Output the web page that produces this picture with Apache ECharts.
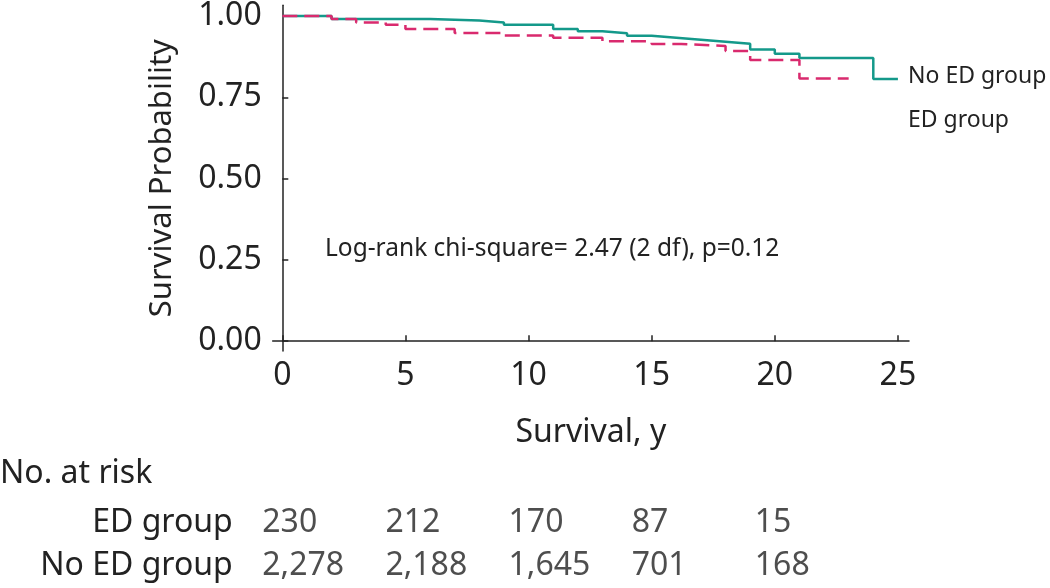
<!DOCTYPE html>
<html>
<head>
<meta charset="utf-8">
<script src="https://cdn.jsdelivr.net/npm/echarts@6/dist/echarts.min.js"></script>
<style>
html,body{margin:0;padding:0;background:#fff;}
#chart{width:1050px;height:588px;}
</style>
</head>
<body>
<div id="chart"></div>
<script>
// ---- data ----
const seriesNames = ['No ED group', 'ED group'];
// Kaplan-Meier step points: [time (years), survival probability]
const noEdTimes = [0, 2, 6, 8, 9, 11, 12, 13, 14, 15, 16, 17, 18, 19, 20, 21, 24, 25];
const noEdSurv  = [1.000, 0.991, 0.986, 0.980, 0.973, 0.960, 0.953, 0.947, 0.939, 0.933, 0.927, 0.921, 0.915, 0.897, 0.884, 0.871, 0.806, 0.806];
const edTimes   = [0, 2, 3, 4.2, 5, 7, 9, 11, 13, 15, 16.2, 18, 19, 21, 23];
const edSurv    = [1.000, 0.991, 0.980, 0.973, 0.960, 0.948, 0.940, 0.933, 0.922, 0.914, 0.908, 0.892, 0.865, 0.808, 0.808];
const xTicks = [0, 5, 10, 15, 20, 25];
const yTicks = [0, 0.25, 0.5, 0.75, 1];
const riskTimes = [0, 5, 10, 15, 20];
const riskEd    = ['230', '212', '170', '87', '15'];
const riskNoEd  = ['2,278', '2,188', '1,645', '701', '168'];
const annotation = 'Log-rank chi-square= 2.47 (2 df), p=0.12';
const xTitle = 'Survival, y';
const yTitle = 'Survival Probability';
const riskTitle = 'No. at risk';

// ---- style ----
const FONT = 'Noto Sans';
const TXT = '#222';
const TEAL = '#14998a';
const PINK = '#d92a6e';

const chart = echarts.init(document.getElementById('chart'), null, {renderer: 'canvas'});

const zip = (a, b) => a.map((v, i) => [v, b[i]]);

const option = {
  animation: false,
  backgroundColor: '#fff',
  grid: [
    {left: 272.7, right: 141, top: 0, bottom: 237},
    {left: 272.7, right: 141, top: 501, height: 94}
  ],
  xAxis: [
    {
      gridIndex: 0, type: 'value', min: -0.39, max: 25.45,
      axisLine: {show: true, lineStyle: {color: TXT, width: 1.5}},
      axisTick: {show: true, inside: true, length: 6, customValues: xTicks, lineStyle: {color: TXT, width: 1.5}},
      axisLabel: {customValues: xTicks, margin: 9, fontSize: 32, color: TXT, fontFamily: FONT},
      splitLine: {show: false},
      name: xTitle, nameLocation: 'middle', nameGap: 66,
      nameTextStyle: {fontSize: 32, color: TXT, fontFamily: FONT}
    },
    {
      gridIndex: 1, type: 'value', min: -0.39, max: 25.45, show: false
    }
  ],
  yAxis: [
    {
      gridIndex: 0, type: 'value', min: -0.0303, max: 1.033,
      axisLine: {show: true, lineStyle: {color: TXT, width: 1.5}},
      axisTick: {show: true, inside: true, length: 6, customValues: yTicks, lineStyle: {color: TXT, width: 1.5}},
      axisLabel: {customValues: yTicks, margin: 11, fontSize: 32, color: TXT, fontFamily: FONT,
                  formatter: v => v.toFixed(2)},
      splitLine: {show: false},
      name: yTitle, nameLocation: 'middle', nameGap: 95, nameRotate: 90,
      nameTextStyle: {fontSize: 31, color: TXT, fontFamily: FONT}
    },
    {
      gridIndex: 1, type: 'category', inverse: true, data: ['ED group', 'No ED group'],
      axisLine: {show: false}, axisTick: {show: false},
      axisLabel: {margin: 40, fontSize: 32, color: TXT, fontFamily: FONT}
    }
  ],
  series: [
    {
      name: seriesNames[0], type: 'line', step: 'end', xAxisIndex: 0, yAxisIndex: 0,
      data: zip(noEdTimes, noEdSurv), showSymbol: false, symbol: 'none',
      lineStyle: {color: TEAL, width: 2.5}, z: 2
    },
    {
      name: seriesNames[1], type: 'line', step: 'end', xAxisIndex: 0, yAxisIndex: 0,
      data: zip(edTimes, edSurv), showSymbol: false, symbol: 'none',
      lineStyle: {color: PINK, width: 2.5, type: [15, 7]}, z: 3
    },
    {
      type: 'scatter', xAxisIndex: 1, yAxisIndex: 1, symbolSize: 0,
      data: riskTimes.map((t, i) => ({value: [t, 'ED group'], label: {formatter: riskEd[i]}}))
        .concat(riskTimes.map((t, i) => ({value: [t, 'No ED group'], label: {formatter: riskNoEd[i]}}))),
      label: {show: true, position: 'inside', align: 'left', verticalAlign: 'middle', offset: [-20, 0],
              fontSize: 32, color: TXT, fontFamily: FONT},
      silent: true
    }
  ],
  graphic: [
    {type: 'text', left: 325, top: 237, style: {text: annotation, fontSize: 24.5, fontFamily: FONT, fill: TXT}},
    {type: 'text', left: 908, top: 65, style: {text: seriesNames[0], fontSize: 23, fontFamily: FONT, fill: TXT}},
    {type: 'text', left: 908, top: 109, style: {text: seriesNames[1], fontSize: 23, fontFamily: FONT, fill: TXT}},
    {type: 'text', left: 0, top: 458, style: {text: riskTitle, fontSize: 32, fontFamily: FONT, fill: TXT}}
  ]
};
chart.setOption(option);
</script>
</body>
</html>
